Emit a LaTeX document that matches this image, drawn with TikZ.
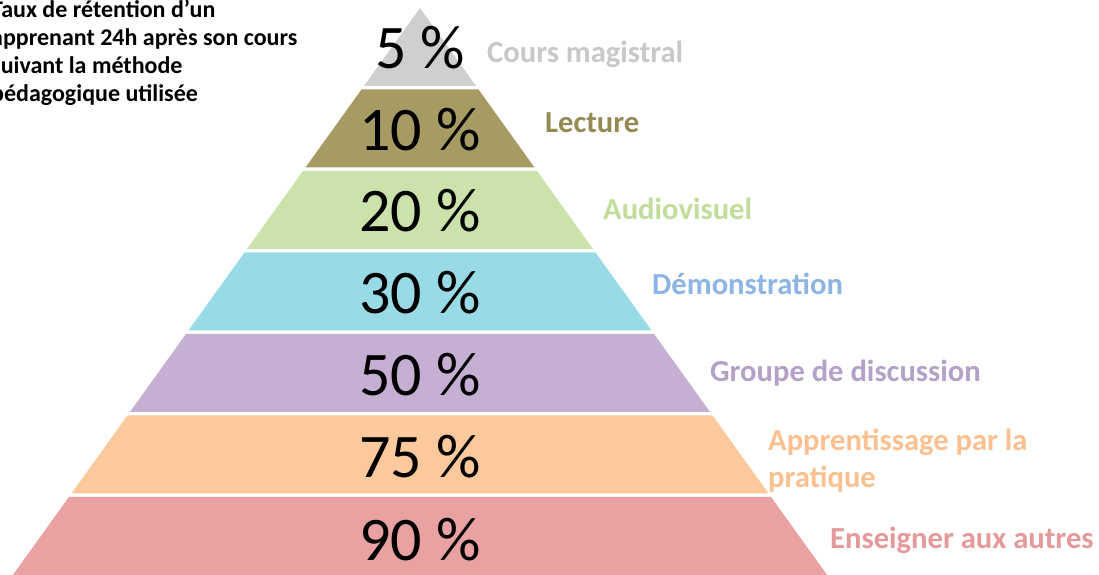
\documentclass[tikz,border=0pt]{standalone}
\usepackage{fontspec}
\setmainfont{Carlito}
\definecolor{cGrey}{HTML}{D0CECE}
\definecolor{cOlive}{HTML}{A69C63}
\definecolor{cGreen}{HTML}{CBE3AB}
\definecolor{cCyan}{HTML}{98DBE7}
\definecolor{cPurple}{HTML}{C5AFD3}
\definecolor{cOrange}{HTML}{FCC99C}
\definecolor{cRed}{HTML}{EAA1A2}
\definecolor{tGrey}{HTML}{C8C8C8}
\definecolor{tOlive}{HTML}{948B54}
\definecolor{tGreen}{HTML}{C2DC9A}
\definecolor{tBlue}{HTML}{8DB4E2}
\definecolor{tPurple}{HTML}{B4A1C8}
\definecolor{tOrange}{HTML}{FAC08F}
\definecolor{tRed}{HTML}{E6999A}
\newcommand\pyrlayer[3]{\fill[#1] ({420-0.718*(#2-8)},#2) -- ({420+0.718*(#2-8)},#2) -- ({420+0.718*(#3-8)},#3) -- ({420-0.718*(#3-8)},#3) -- cycle;}
\begin{document}
\begin{tikzpicture}[x=1pt,y=-1pt,
  pct/.style={anchor=base,inner sep=0pt,font=\fontsize{62}{64}\selectfont},
  lbl/.style={anchor=base west,inner sep=0pt,font=\fontsize{30.6}{37.3}\selectfont\bfseries},
  note/.style={anchor=base west,inner sep=0pt,font=\fontsize{24}{29}\selectfont\bfseries}]
\useasboundingbox (0,0) rectangle (1099,574);
\fill[white] (0,0) rectangle (1099,574);
\pyrlayer{cGrey}{8}{85.75}
\pyrlayer{cOlive}{89.25}{167.25}
\pyrlayer{cGreen}{170.75}{248.75}
\pyrlayer{cCyan}{252.25}{330.25}
\pyrlayer{cPurple}{333.75}{411.75}
\pyrlayer{cOrange}{415.25}{493.25}
\pyrlayer{cRed}{496.75}{590}
\node[pct] (p5) at (420,68) {5 \%};
\node[pct] (p10) at (420,150) {10 \%};
\node[pct] (p20) at (420,231) {20 \%};
\node[pct] (p30) at (420,313) {30 \%};
\node[pct] (p50) at (420,395) {50 \%};
\node[pct] (p75) at (420,477) {75 \%};
\node[pct] (p90) at (420,560) {90 \%};
\node[lbl,text=tGrey] (l1) at (487,62) {Cours magistral};
\node[lbl,text=tOlive] (l2) at (545,132) {Lecture};
\node[lbl,text=tGreen] (l3) at (603,219) {Audiovisuel};
\node[lbl,text=tBlue] (l4) at (652,294) {Démonstration};
\node[lbl,text=tPurple] (l5) at (710,381) {Groupe de discussion};
\node[lbl,text=tOrange] (l6a) at (768,450) {Apprentissage par la};
\node[lbl,text=tOrange] (l6b) at (768,487) {pratique};
\node[lbl,text=tRed] (l7) at (830,548) {Enseigner aux autres};
\node[note] (n1) at (-9,17) {Taux de rétention d’un};
\node[note] (n2) at (-9,45) {apprenant 24h après son cours};
\node[note] (n3) at (-9,73) {suivant la méthode};
\node[note] (n4) at (-9,101) {pédagogique utilisée};
\end{tikzpicture}
\end{document}
